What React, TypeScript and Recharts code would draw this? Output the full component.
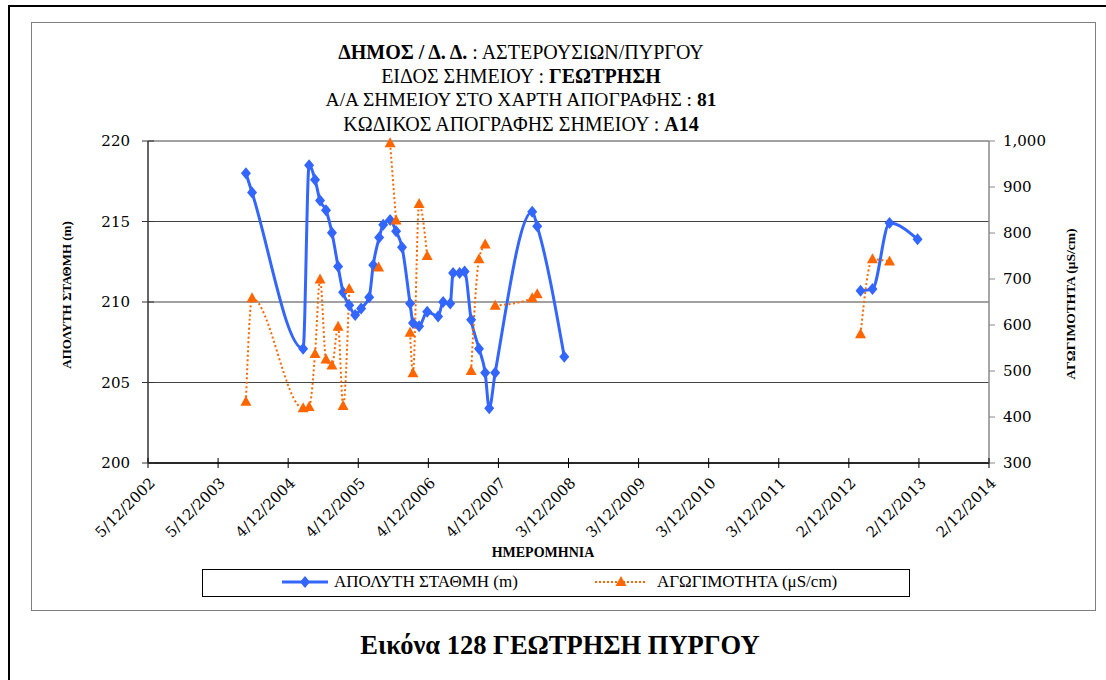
import React from "react";
import { CartesianGrid, ComposedChart, Legend, Line, XAxis, YAxis } from "recharts";

// x axis ticks as shown in the sheet (D/M/YYYY)
const X_TICK_LABELS = [
    "5/12/2002", "5/12/2003", "4/12/2004", "4/12/2005", "4/12/2006", "4/12/2007", "3/12/2008",
    "3/12/2009", "3/12/2010", "3/12/2011", "2/12/2012", "2/12/2013", "2/12/2014",
];
const LEVEL_TICKS = [200, 205, 210, 215, 220];
const COND_TICKS = [300, 400, 500, 600, 700, 800, 900, 1000];

// ΑΠΟΛΥΤΗ ΣΤΑΘΜΗ (m) - null marks a break in the line
const LEVEL_DATES = [
    "2004-04-28", "2004-05-30", "2005-02-20", "2005-03-23", "2005-04-23", "2005-05-19", "2005-06-19",
    "2005-07-20", "2005-08-21", "2005-09-16", "2005-10-18", "2005-11-18", "2005-12-19", "2006-01-30",
    "2006-02-20", "2006-03-23", "2006-04-13", "2006-05-19", "2006-06-19", "2006-07-20", "2006-08-31",
    "2006-09-15", "2006-10-17", "2006-11-28", "2007-01-24", "2007-02-19", "2007-03-28", "2007-04-12",
    "2007-05-16", "2007-06-11", "2007-07-15", "2007-08-25", "2007-09-26", "2007-10-17", "2007-11-17",
    "2008-05-28", "2008-06-23", "2008-11-11", "2010-06-01", "2013-02-01", "2013-04-04", "2013-07-02",
    "2013-11-25",
];
const LEVEL_VALUES = [
    218.0, 216.8, 207.1, 218.5, 217.6, 216.3, 215.7,
    214.3, 212.2, 210.6, 209.8, 209.2, 209.6, 210.3,
    212.3, 214.0, 214.8, 215.1, 214.4, 213.4, 209.9,
    208.7, 208.5, 209.4, 209.1, 210.0, 209.9, 211.8,
    211.8, 211.9, 208.9, 207.1, 205.6, 203.4, 205.6,
    215.6, 214.7, 206.6, null, 210.7, 210.8, 214.9,
    213.9,
];

// ΑΓΩΓΙΜΟΤΗΤΑ (μS/cm) - null marks a break in the line
const COND_DATES = [
    "2004-04-28", "2004-05-30", "2005-02-20", "2005-03-23", "2005-04-23", "2005-05-19", "2005-06-19",
    "2005-07-20", "2005-08-21", "2005-09-16", "2005-10-18", "2006-01-01", "2006-03-20", "2006-04-20",
    "2006-05-19", "2006-06-19", "2006-07-20", "2006-08-31", "2006-09-15", "2006-10-17", "2006-11-28",
    "2007-03-01", "2007-07-15", "2007-08-25", "2007-09-26", "2007-10-20", "2007-11-17", "2008-05-28",
    "2008-06-23", "2010-06-01", "2013-02-01", "2013-04-04", "2013-07-02",
];
const COND_VALUES = [
    433, 658, 419, 422, 537, 699, 525,
    512, 596, 424, 678, null, 725, null,
    995, 827, null, 583, 495, 863, 750,
    null, 500, 743, 775, null, 642, 658,
    667, null, 580, 743, 738,
];

const BLUE = "#3366FF";
const ORANGE = "#FF6600";
const SERIF = "Liberation Serif";
const TICK_FONT = "DejaVu Serif";

const parseDmy = (s: string) => {
    const [d, m, y] = s.split("/").map(Number);
    return Date.UTC(y, m - 1, d);
};

const X_TICKS = X_TICK_LABELS.map(parseDmy);
const X_LABEL_BY_TS: Record<number, string> = {};
X_TICKS.forEach((t, i) => (X_LABEL_BY_TS[t] = X_TICK_LABELS[i]));

const levelData = LEVEL_DATES.map((d, i) => ({ date: Date.parse(d), level: LEVEL_VALUES[i] }));
const condData = COND_DATES.map((d, i) => ({ date: Date.parse(d), cond: COND_VALUES[i] }));

function Diamond(props: any) {
    const { cx, cy, index, value } = props;
    if (cx == null || cy == null || value == null) return <g key={`d${index}`} />;
    return (
        <polygon
            key={`d${index}`}
            points={`${cx},${cy - 6} ${cx + 5},${cy} ${cx},${cy + 6} ${cx - 5},${cy}`}
            fill={BLUE}
        />
    );
}

function Triangle(props: any) {
    const { cx, cy, index, value } = props;
    if (cx == null || cy == null || value == null) return <g key={`t${index}`} />;
    return (
        <polygon
            key={`t${index}`}
            points={`${cx},${cy - 6} ${cx + 5.5},${cy + 4} ${cx - 5.5},${cy + 4}`}
            fill={ORANGE}
        />
    );
}

function LeftTick({ x, y, payload }: any) {
    const ax = x + 18;
    return (
        <g>
            <line x1={ax - 6} x2={ax + 6} y1={y} y2={y} stroke="#333" />
            <text x={x} y={y} dy={5} textAnchor="end" fontFamily={TICK_FONT} fontSize={15} fill="#000">
                {payload.value}
            </text>
        </g>
    );
}

function RightTick({ x, y, payload }: any) {
    return (
        <text x={x} y={y} dy={5} textAnchor="start" fontFamily={TICK_FONT} fontSize={15} fill="#000">
            {Number(payload.value).toLocaleString("en-US")}
        </text>
    );
}

function DateTick({ x, y, payload }: any) {
    const ay = y - 9;
    const tx = x + 8;
    const ty = ay + 21;
    return (
        <g>
            <line x1={x} x2={x} y1={ay - 5} y2={ay + 5} stroke="#000" />
            <text
                x={tx}
                y={ty}
                textAnchor="end"
                fontFamily={TICK_FONT}
                fontSize={15}
                fill="#000"
                transform={`rotate(-45, ${tx}, ${ty})`}
            >
                {X_LABEL_BY_TS[payload.value] ?? ""}
            </text>
        </g>
    );
}

function LegendBox({ payload }: any) {
    const items = [...(payload ?? [])].sort((a: any, b: any) =>
        a.dataKey === "level" ? -1 : b.dataKey === "level" ? 1 : 0
    );
    const lefts = [79, 392];
    return (
        <div
            style={{
                position: "relative",
                width: 706,
                height: 26,
                border: "1px solid #000",
                background: "#fff",
                fontFamily: SERIF,
                fontSize: 17,
            }}
        >
            {items.map((entry: any, i: number) => {
                const isLevel = entry.dataKey === "level";
                return (
                    <div
                        key={entry.value}
                        style={{ position: "absolute", left: lefts[i], top: 2, display: "flex", alignItems: "center", whiteSpace: "nowrap" }}
                    >
                        <svg width={isLevel ? 46 : 52} height={20} style={{ marginRight: isLevel ? 6 : 10 }}>
                            {isLevel ? (
                                <>
                                    <line x1={0} x2={46} y1={10} y2={10} stroke={BLUE} strokeWidth={3} />
                                    <polygon points="23,4 28,10 23,16 18,10" fill={BLUE} />
                                </>
                            ) : (
                                <>
                                    <line x1={0} x2={52} y1={10} y2={10} stroke={ORANGE} strokeWidth={2} strokeDasharray="2 2" />
                                    <polygon points="26,4 31.5,14 20.5,14" fill={ORANGE} />
                                </>
                            )}
                        </svg>
                        <span style={{ lineHeight: "20px" }}>{entry.value}</span>
                    </div>
                );
            })}
        </div>
    );
}

export default function App() {
    return (
        <div style={{ position: "absolute", left: 0, top: 0, width: 1106, height: 680, overflow: "hidden", background: "#fff" }}>
            {/* outer frame */}
            <div style={{ position: "absolute", left: 8, top: 5, width: 1110, height: 700, border: "2.5px solid #000" }} />
            {/* chart area frame */}
            <div style={{ position: "absolute", left: 31, top: 22, width: 1063, height: 587, border: "1.5px solid #7f7f7f" }} />

            <div
                style={{
                    position: "absolute",
                    left: 171,
                    top: 40,
                    width: 700,
                    textAlign: "center",
                    fontFamily: SERIF,
                    fontSize: 20,
                    lineHeight: "24px",
                    color: "#000",
                }}
            >
                <div><b>ΔΗΜΟΣ / Δ. Δ.</b> : ΑΣΤΕΡΟΥΣΙΩΝ/ΠΥΡΓΟΥ</div>
                <div>ΕΙΔΟΣ ΣΗΜΕΙΟΥ : <b>ΓΕΩΤΡΗΣΗ</b></div>
                <div style={{ fontSize: 19.5 }}>Α/Α ΣΗΜΕΙΟΥ ΣΤΟ ΧΑΡΤΗ ΑΠΟΓΡΑΦΗΣ : <b>81</b></div>
                <div>ΚΩΔΙΚΟΣ ΑΠΟΓΡΑΦΗΣ ΣΗΜΕΙΟΥ : <b>Α14</b></div>
            </div>

            <div style={{ position: "absolute", left: 0, top: 0 }}>
                <ComposedChart width={1106} height={680} margin={{ top: 141, right: 57, left: 88, bottom: 157 }}>
                    <CartesianGrid
                        horizontal
                        vertical={false}
                        yAxisId="left"
                        stroke="#444"
                        strokeWidth={1}
                        horizontalValues={LEVEL_TICKS}
                    />
                    <XAxis
                        dataKey="date"
                        type="number"
                        scale="linear"
                        domain={[X_TICKS[0], X_TICKS[X_TICKS.length - 1]]}
                        ticks={X_TICKS}
                        interval={0}
                        allowDataOverflow
                        height={60}
                        tickSize={5}
                        tickMargin={4}
                        tickLine={false}
                        axisLine={{ stroke: "#000", strokeWidth: 1.5 }}
                        tick={<DateTick />}
                    />
                    <YAxis
                        yAxisId="left"
                        orientation="left"
                        domain={[200, 220]}
                        ticks={LEVEL_TICKS}
                        interval={0}
                        width={60}
                        tickSize={6}
                        tickMargin={12}
                        tickLine={false}
                        axisLine={{ stroke: "#333", strokeWidth: 1.5 }}
                        tick={<LeftTick />}
                    />
                    <YAxis
                        yAxisId="right"
                        orientation="right"
                        domain={[300, 1000]}
                        ticks={COND_TICKS}
                        interval={0}
                        width={60}
                        tickSize={6}
                        tickMargin={8}
                        tickLine={{ stroke: "#888" }}
                        axisLine={{ stroke: "#888", strokeWidth: 1.5 }}
                        tick={<RightTick />}
                    />
                    <Legend
                        layout="horizontal"
                        verticalAlign="middle"
                        align="center"
                        wrapperStyle={{ left: 202, top: 569, width: 708 }}
                        content={<LegendBox />}
                    />
                    <Line
                        name="ΑΠΟΛΥΤΗ ΣΤΑΘΜΗ (m)"
                        data={levelData}
                        dataKey="level"
                        yAxisId="left"
                        type="monotone"
                        stroke={BLUE}
                        strokeWidth={3}
                        dot={Diamond}
                        activeDot={false}
                        connectNulls={false}
                        isAnimationActive={false}
                    />
                    <Line
                        name="ΑΓΩΓΙΜΟΤΗΤΑ (μS/cm)"
                        data={condData}
                        dataKey="cond"
                        yAxisId="right"
                        type="monotone"
                        stroke={ORANGE}
                        strokeWidth={2}
                        strokeDasharray="2 2.5"
                        dot={Triangle}
                        activeDot={false}
                        connectNulls={false}
                        isAnimationActive={false}
                    />
                </ComposedChart>
            </div>

            {/* axis titles */}
            <div
                style={{
                    position: "absolute",
                    left: 67,
                    top: 295,
                    transform: "translate(-50%, -50%) rotate(-90deg)",
                    whiteSpace: "nowrap",
                    fontFamily: SERIF,
                    fontWeight: "bold",
                    fontSize: 13,
                }}
            >
                ΑΠΟΛΥΤΗ ΣΤΑΘΜΗ (m)
            </div>
            <div
                style={{
                    position: "absolute",
                    left: 1071,
                    top: 304,
                    transform: "translate(-50%, -50%) rotate(-90deg)",
                    whiteSpace: "nowrap",
                    fontFamily: SERIF,
                    fontWeight: "bold",
                    fontSize: 13.5,
                }}
            >
                ΑΓΩΓΙΜΟΤΗΤΑ (μS/cm)
            </div>
            <div
                style={{
                    position: "absolute",
                    left: 543,
                    top: 553,
                    transform: "translate(-50%, -50%)",
                    whiteSpace: "nowrap",
                    fontFamily: SERIF,
                    fontWeight: "bold",
                    fontSize: 14,
                }}
            >
                ΗΜΕΡΟΜΗΝΙΑ
            </div>

            <div
                style={{
                    position: "absolute",
                    left: 560,
                    top: 645,
                    transform: "translate(-50%, -50%)",
                    whiteSpace: "nowrap",
                    fontFamily: SERIF,
                    fontWeight: "bold",
                    fontSize: 26.5,
                }}
            >
                Εικόνα 128 ΓΕΩΤΡΗΣΗ ΠΥΡΓΟΥ
            </div>
        </div>
    );
}
